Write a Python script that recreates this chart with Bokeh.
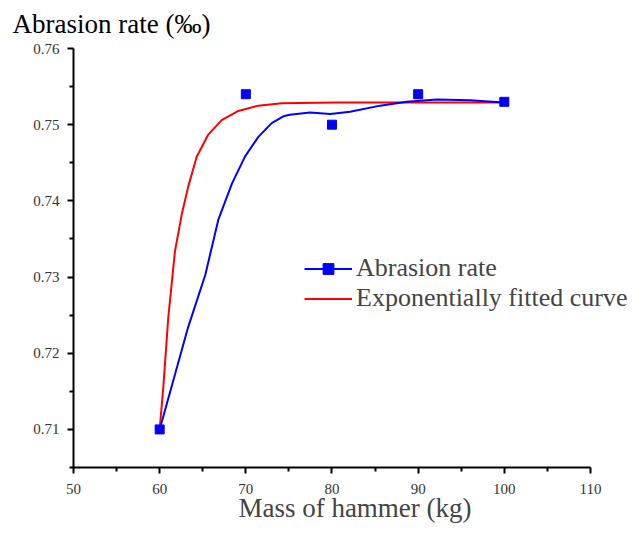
from bokeh.plotting import figure
from bokeh.models import (Range1d, FixedTicker, NumeralTickFormatter, Legend, LegendItem, Title)
from bokeh.embed import file_html
from bokeh.resources import INLINE

# Measured data
mass = [60, 70, 80, 90, 100]
abrasion = [0.710, 0.754, 0.750, 0.754, 0.753]

# Smoothed line through the data
smooth_x = [60, 61.8, 63.3, 65.3, 66.8, 68.4, 69.9, 71.45, 73.0, 74.35, 75.1, 77.45, 79.8, 82.1, 85.6, 88.7, 92.15, 96.0, 100]
smooth_y = [0.710, 0.7173, 0.7234, 0.7303, 0.7375, 0.7423, 0.7458, 0.7484, 0.7502, 0.7511, 0.7513, 0.7516, 0.7514, 0.7517, 0.7525, 0.7530, 0.7533, 0.7532, 0.7529]

# Exponentially fitted curve
fit_x = [60, 60.42, 61.0, 61.78, 62.56, 63.32, 64.3, 65.64, 67.2, 69.12, 71.45, 74.16, 80.5, 100]
fit_y = [0.710, 0.7155, 0.7247, 0.7334, 0.7382, 0.7419, 0.7458, 0.7487, 0.7506, 0.7518, 0.7525, 0.7528, 0.7529, 0.7529]

x_ticks = [50, 60, 70, 80, 90, 100, 110]
y_ticks = [0.71, 0.72, 0.73, 0.74, 0.75, 0.76]

SERIF = "Liberation Serif"

p = figure(width=636, height=525, output_backend="svg", toolbar_location=None,
           x_range=Range1d(50, 115.34), y_range=Range1d(0.705, 0.76),
           min_border_left=73, min_border_right=0, min_border_top=47, min_border_bottom=58)
p.outline_line_color = None
p.grid.visible = False
p.background_fill_color = "white"

p.title = Title(text="Abrasion rate (‰)", align="left", offset=-61, standoff=16,
                vertical_align="top",
                text_font=SERIF, text_font_size="27px", text_font_style="normal",
                text_color="black")

for ax in (p.xaxis[0], p.yaxis[0]):
    ax.axis_line_width = 2
    ax.major_tick_line_width = 2
    ax.minor_tick_line_width = 2
    ax.major_tick_out = 6
    ax.major_tick_in = 0
    ax.minor_tick_out = 4
    ax.minor_tick_in = 0
    ax.major_label_text_font = SERIF
    ax.major_label_text_font_size = "15px"
    ax.major_label_text_color = "#333333"

p.xaxis.bounds = (50, 110)
p.xaxis.ticker = FixedTicker(ticks=x_ticks, minor_ticks=[55, 65, 75, 85, 95, 105])
p.yaxis.ticker = FixedTicker(ticks=y_ticks, minor_ticks=[0.705, 0.715, 0.725, 0.735, 0.745, 0.755])
p.yaxis.formatter = NumeralTickFormatter(format="0.00")
p.yaxis.major_label_standoff = 8
p.xaxis.major_label_standoff = 10
p.xaxis.axis_label = "Mass of hammer (kg)"
p.xaxis.axis_label_text_font = SERIF
p.xaxis.axis_label_text_font_size = "27px"
p.xaxis.axis_label_text_font_style = "normal"
p.xaxis.axis_label_standoff = -4

r_fit = p.line(fit_x, fit_y, line_color="#ff0000", line_width=2)
r_smooth = p.line(smooth_x, smooth_y, line_color="#0000ff", line_width=2)
r_pts = p.scatter(mass, abrasion, marker="square", size=9, fill_color="#0000ff", line_color="#0000ff")

legend = Legend(items=[LegendItem(label="Abrasion rate", renderers=[r_smooth, r_pts]),
                       LegendItem(label="Exponentially fitted curve", renderers=[r_fit])],
                location=(231, 154), padding=0, margin=0, spacing=-5,
                glyph_width=48, glyph_height=27, label_height=27, label_standoff=4,
                label_text_font=SERIF, label_text_font_size="26px",
                border_line_alpha=0, background_fill_alpha=0)
p.add_layout(legend, "center")

open("out.html", "w").write(file_html(p, INLINE))
